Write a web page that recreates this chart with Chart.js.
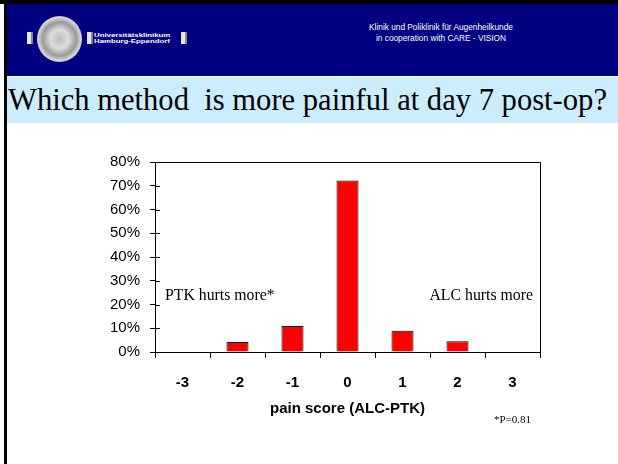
<!DOCTYPE html>
<html>
<head>
<meta charset="utf-8">
<script src="https://cdn.jsdelivr.net/npm/chart.js@4/dist/chart.umd.min.js"></script>
<style>
  html, body { margin: 0; padding: 0; }
  body { width: 618px; height: 464px; position: relative; overflow: hidden; background: #fff; }
  #topline { position: absolute; left: 0; top: 0; width: 618px; height: 4px; background: #000; }
  #leftline { position: absolute; left: 4px; top: 0; width: 3px; height: 464px; background: #000; }
  #page { position: absolute; left: 7px; top: 4px; right: 0; bottom: 0; }
  #header { position: absolute; left: 0; top: 0; right: 0; height: 72px; background: #000080; }
  .bar { position: absolute; background: #e8e8e8; border-right: 2px solid #888; }
  #seal { position: absolute; left: 30px; top: 12px; width: 43px; height: 44px; border-radius: 50%;
          background: radial-gradient(circle, #bbb 0%, #ddd 30%, #999 55%, #eee 75%, #888 100%); border: 1px solid #ccc; }
  #uni { position: absolute; left: 87px; top: 28px; color: #fff; font: bold 6px Arial, sans-serif; line-height: 6px;
         transform: scaleX(1.3); transform-origin: left top; white-space: nowrap; }
  #klinik { position: absolute; left: 328px; width: 212px; top: 18px; color: #fff; text-align: center;
            font: 8.3px "Liberation Sans", Arial, sans-serif; line-height: 10.5px; }
  #banner { position: absolute; left: 0; top: 73px; right: 0; height: 46px; background: #ccecff; }
  #banner span { position: absolute; left: 1px; top: 6px; font: 30.6px "Liberation Serif", "Times New Roman", serif; color: #000; white-space: nowrap; }
  #pnote { position: absolute; left: 487px; top: 409px; font: 11px "Liberation Serif", "Times New Roman", serif; color: #000; }
  #wrap { position: absolute; left: -7px; top: 136px; width: 618px; height: 300px; }
</style>
</head>
<body>
<div id="topline"></div>
<div id="leftline"></div>
<div id="page">
  <div id="header">
    <div class="bar" style="left:20px;top:28px;width:4px;height:12px;"></div>
    <div id="seal"></div>
    <div class="bar" style="left:80px;top:28px;width:4px;height:12px;"></div>
    <div id="uni">Universitätsklinikum<br>Hamburg-Eppendorf</div>
    <div class="bar" style="left:174px;top:28px;width:4px;height:12px;"></div>
    <div id="klinik">Klinik und Poliklinik für Augenheilkunde<br>in cooperation with CARE - VISION</div>
  </div>
  <div id="banner"><span>Which method&nbsp; is more painful at day 7 post-op?</span></div>
  <div id="wrap"><canvas id="chart" width="618" height="300"></canvas></div>
  <div id="pnote">*P=0.81</div>
</div>
<script>
var categorias = ['-3', '-2', '-1', '0', '1', '2', '3'];
var porcentajes = [0, 4.2, 10.9, 72.2, 9, 4.5, 0];
var ticksY = [0, 10, 20, 30, 40, 50, 60, 70, 80];
var notas = [
    { texto: 'PTK hurts more*', valor: 23.5, lado: 'left' },
    { texto: 'ALC hurts more', valor: 23.5, lado: 'right' }
];

// marco del area del grafico y textos de anotacion
var marcoPlugin = {
    id: 'marco',
    afterDraw: function(chart) {
        var ctx = chart.ctx;
        var a = chart.chartArea;
        var y = chart.scales.y;
        ctx.save();
        ctx.strokeStyle = '#000';
        ctx.lineWidth = 1;
        ctx.beginPath();
        ctx.moveTo(a.left, a.top + 0.5);
        ctx.lineTo(a.right + 0.5, a.top + 0.5);
        ctx.lineTo(a.right + 0.5, a.bottom);
        ctx.stroke();
        // marcas que cruzan el eje Y
        ticksY.forEach(function(t) {
            var py = Math.round(y.getPixelForValue(t)) + 0.5;
            ctx.beginPath();
            ctx.moveTo(a.left, py);
            ctx.lineTo(a.left + 5, py);
            ctx.stroke();
        });
        ctx.font = '15.8px "Liberation Serif", "Times New Roman", serif';
        ctx.fillStyle = '#000';
        ctx.textBaseline = 'middle';
        notas.forEach(function(n) {
            var py = y.getPixelForValue(n.valor);
            if (n.lado === 'left') {
                ctx.textAlign = 'left';
                ctx.fillText(n.texto, a.left + 10, py);
            } else {
                ctx.textAlign = 'right';
                ctx.fillText(n.texto, a.right - 7, py);
            }
        });
        ctx.restore();
    }
};

var chart = new Chart(document.getElementById('chart'), {
    type: 'bar',
    data: {
        labels: categorias,
        datasets: [{
            data: porcentajes,
            backgroundColor: '#ff0000',
            borderColor: '#000',
            borderWidth: 1,
            borderSkipped: 'bottom',
            barPercentage: 0.4,
            categoryPercentage: 1
        }]
    },
    options: {
        responsive: false,
        animation: false,
        layout: { padding: { left: 0, right: 78, top: 22, bottom: 0 } },
        plugins: { legend: { display: false }, tooltip: { enabled: false } },
        scales: {
            x: {
                grid: { display: true, drawOnChartArea: false, drawTicks: true, tickLength: 6, color: '#000', offset: true },
                border: { color: '#000', width: 1 },
                ticks: { color: '#000', padding: 16, font: { family: 'Arial, "Liberation Sans", sans-serif', size: 15, weight: 'bold' } },
                title: { display: true, text: 'pain score (ALC-PTK)', color: '#000', padding: { top: 0, bottom: 22 },
                         font: { family: 'Arial, "Liberation Sans", sans-serif', size: 15, weight: 'bold' } },
                afterFit: function(s) { s.height = 88; }
            },
            y: {
                min: 0, max: 80,
                afterBuildTicks: function(s) { s.ticks = ticksY.map(function(v) { return { value: v }; }); },
                grid: { display: true, drawOnChartArea: false, drawTicks: true, tickLength: 5, color: '#000' },
                border: { color: '#000', width: 1 },
                ticks: { color: '#000', padding: 10, callback: function(v) { return v + '%'; },
                         font: { family: 'Arial, "Liberation Sans", sans-serif', size: 15 } },
                afterFit: function(s) { s.width = 155; }
            }
        }
    },
    plugins: [marcoPlugin]
});
</script>
</body>
</html>
